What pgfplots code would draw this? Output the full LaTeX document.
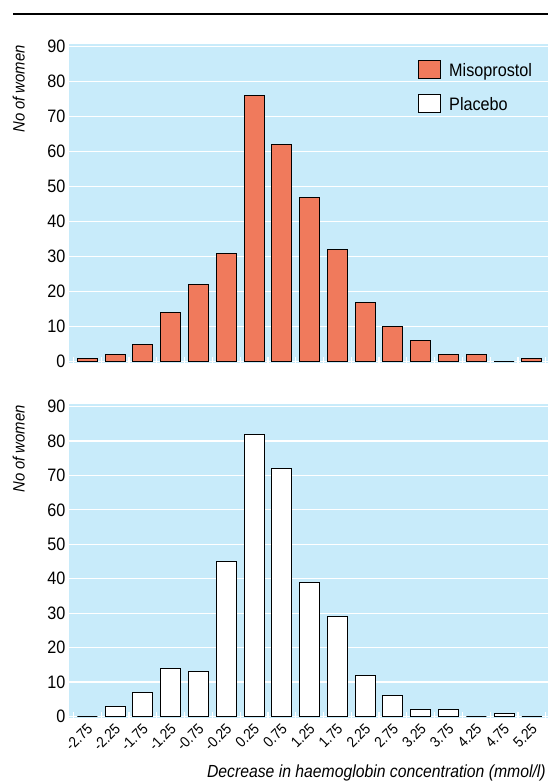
\documentclass[border=0pt]{standalone}
\usepackage{pgfplots}
\pgfplotsset{compat=1.18}
\usepackage{fontspec}
\setmainfont{Liberation Sans}[FakeStretch=0.9]
\definecolor{bgblue}{RGB}{200,235,250}
\definecolor{miso}{RGB}{240,122,92}
\pgfplotsset{
  hist/.style={
    ybar, bar width=20pt,
    scale only axis, width=479pt,
    xmin=-0.66, xmax=16.58,
    ymin=-0.4, ymax=90.6,
    axis background/.style={fill=bgblue},
    axis line style={draw=none},
    ytick={0,10,...,90},
    ymajorgrids, grid style={white, line width=1.2pt},
    xtick={0,...,16},
    major x tick style={draw=none},
    major y tick style={draw=none},
    minor xtick={-0.5,0.5,...,16.5},
    minor x tick style={white, line width=1.2pt},
    minor tick length=6pt,
    tick align=inside, tick pos=left,
    /pgf/number format/assume math mode=true,
    yticklabel style={font=\fontsize{18}{18}\selectfont},
    legend image code/.code={\draw[#1, draw=black, line width=1pt] (0pt,-7pt) rectangle (22pt,10.5pt);},
  }
}
\begin{document}
\begin{tikzpicture}[x=1pt,y=1pt]
\path[use as bounding box] (0,0) rectangle (548,-783);
\draw[line width=1.3pt] (13,-14) -- (548,-14);
\begin{axis}[hist, name=top, at={(69pt,-362.9pt)}, anchor=south west, height=318.5pt,
  xticklabels={},
  legend style={at={(rel axis cs:0.7286,0.951)}, anchor=north west, draw=none, fill=none,
    inner sep=0pt, font=\fontsize{18}{18}\selectfont, row sep=15.5pt, column sep=8pt,
    nodes={inner sep=0pt}},
  legend cell align=left]
\addplot[fill=miso, draw=black, line width=1pt, bar shift=0pt] coordinates {
(0,1) (1,2) (2,5) (3,14) (4,22) (5,31) (6,76) (7,62) (8,47) (9,32) (10,17) (11,10) (12,6) (13,2) (14,2) (15,0) (16,1)};
\addlegendentry{Misoprostol}
\addlegendimage{fill=white, draw=black}
\addlegendentry{Placebo}
\end{axis}
\begin{axis}[hist, name=bot, at={(69pt,-717.9pt)}, anchor=south west, height=313.5pt,
  xticklabels={-2.75,-2.25,-1.75,-1.25,-0.75,-0.25,0.25,0.75,1.25,1.75,2.25,2.75,3.25,3.75,4.25,4.75,5.25},
  xticklabel style={xshift=5pt, yshift=-6pt, rotate=45, anchor=east, font=\fontsize{15}{15}\selectfont}]
\addplot[fill=white, draw=black, line width=1pt, bar shift=0pt] coordinates {
(0,0) (1,3) (2,7) (3,14) (4,13) (5,45) (6,82) (7,72) (8,39) (9,29) (10,12) (11,6) (12,2) (13,2) (14,0) (15,1) (16,0)};
\end{axis}
\node[rotate=90, anchor=south east, inner sep=0pt, font=\itshape\fontsize{16.5}{16.5}\selectfont] at (25,-45) {No of women};
\node[rotate=90, anchor=south east, inner sep=0pt, font=\itshape\fontsize{16.5}{16.5}\selectfont] at (25,-405) {No of women};
\node[anchor=east, inner sep=0pt, font=\itshape\fontsize{17.5}{17.5}\selectfont] at (546,-773) {Decrease in haemoglobin concentration (mmol/l)};
\end{tikzpicture}
\end{document}
